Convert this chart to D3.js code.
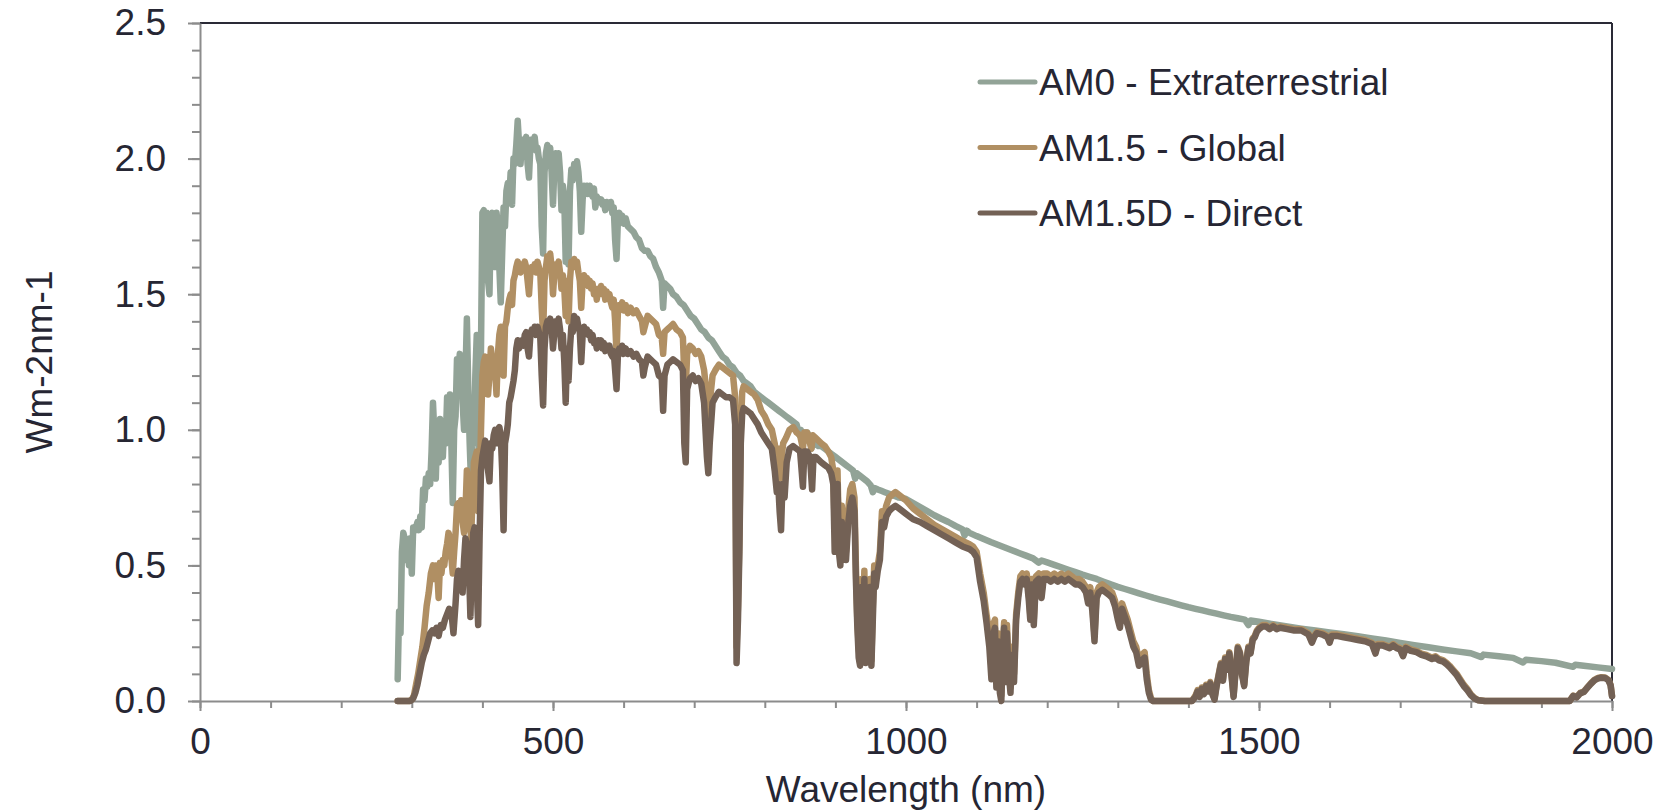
<!DOCTYPE html>
<html>
<head>
<meta charset="utf-8">
<script src="https://cdn.jsdelivr.net/npm/d3@7"></script>
<style>
  html, body { margin: 0; padding: 0; background: #fff; }
  svg { display: block; }
  text { font-family: "Liberation Sans", Arial, sans-serif; fill: #262633; }
</style>
</head>
<body>
<svg id="chart" width="1667" height="811"></svg>
<script>
// Solar spectral irradiance, [wavelength nm, W m-2 nm-1]
const am0 = [
  [280,0.08],[282,0.33],[284,0.25],[286,0.55],[288,0.62],[290,0.6],[292,0.52],[294,0.58],[296,0.5],[298,0.6],
  [300,0.47],[302,0.64],[305,0.63],[308,0.66],[310,0.63],[312,0.68],[314,0.64],[316,0.78],[318,0.74],[320,0.82],
  [322,0.79],[324,0.84],[326,0.8],[328,0.92],[330,1.1],[332,0.98],[334,0.82],[336,1.0],[338,0.88],[340,1.04],
  [342,0.97],[344,0.9],[346,1.03],[348,0.95],[350,1.12],[352,1.0],[354,1.13],[356,0.95],[358,0.73],[360,1.0],
  [362,1.05],[364,1.26],[366,1.22],[368,1.28],[370,1.25],[372,1.1],[374,1.0],[376,1.2],[378,1.41],[380,1.15],
  [382,0.95],[384,0.8],[386,1.0],[388,0.95],[390,1.2],[392,1.35],[394,1.0],[396,0.87],[398,1.3],[400,1.8],
  [402,1.81],[404,1.62],[406,1.8],[408,1.55],[410,1.5],[412,1.78],[414,1.8],[416,1.72],[418,1.6],[420,1.8],
  [422,1.75],[424,1.6],[426,1.47],[428,1.65],[430,1.82],[432,1.75],[434,1.88],[436,1.91],[438,1.85],[440,1.95],
  [442,1.83],[444,2.0],[446,1.98],[448,2.05],[450,2.14],[452,2.05],[454,1.98],[456,2.06],[458,2.07],[460,2.05],
  [462,2.08],[464,1.98],[466,1.93],[468,2.05],[470,2.07],[472,2.06],[474,2.08],[476,2.03],[478,2.04],[480,2.0],
  [482,1.98],[484,1.75],[486,1.65],[488,1.95],[490,2.02],[492,2.05],[494,2.0],[496,2.04],[498,1.95],[500,1.83],
  [502,1.97],[504,2.02],[506,1.98],[508,2.02],[510,1.95],[512,1.81],[514,1.9],[516,1.85],[518,1.62],[520,1.8],
  [522,1.61],[524,1.88],[526,1.96],[528,1.92],[530,1.98],[532,1.94],[534,1.99],[536,1.95],[538,1.88],[540,1.73],
  [542,1.85],[544,1.9],[546,1.88],[548,1.9],[550,1.87],[552,1.9],[554,1.88],[556,1.86],[558,1.89],[560,1.82],
  [562,1.86],[564,1.85],[566,1.84],[568,1.85],[570,1.83],[572,1.84],[574,1.81],[576,1.84],[578,1.83],[580,1.82],
  [582,1.84],[584,1.8],[586,1.82],[588,1.7],[590,1.63],[592,1.78],[594,1.8],[596,1.77],[598,1.79],[600,1.76],
  [603,1.78],[606,1.75],[610,1.74],[614,1.73],[618,1.71],[622,1.7],[626,1.67],[630,1.66],[634,1.66],[638,1.64],
  [642,1.63],[646,1.6],[650,1.58],[654,1.55],[656,1.45],[658,1.54],[662,1.53],[666,1.52],[670,1.5],[675,1.49],
  [680,1.47],[685,1.46],[690,1.44],[695,1.42],[700,1.41],[705,1.39],[710,1.37],[715,1.36],[720,1.34],[725,1.33],
  [730,1.31],[735,1.29],[740,1.27],[745,1.26],[750,1.24],[755,1.23],[760,1.21],[765,1.2],[770,1.18],[775,1.17],
  [780,1.16],[785,1.14],[790,1.13],[795,1.12],[800,1.11],[805,1.1],[810,1.09],[815,1.08],[820,1.07],[825,1.06],
  [830,1.05],[835,1.04],[840,1.03],[845,1.02],[849,0.98],[851,1.0],[854,0.97],[856,0.99],[860,0.99],[864,0.97],
  [866,0.93],[868,0.96],[872,0.95],[876,0.94],[880,0.94],[885,0.93],[890,0.92],[895,0.91],[900,0.9],[905,0.89],
  [910,0.88],[915,0.87],[920,0.86],[925,0.85],[928,0.82],[930,0.84],[935,0.83],[940,0.82],[945,0.81],[950,0.795],
  [953,0.77],[956,0.785],[960,0.78],[965,0.775],[970,0.77],[975,0.765],[980,0.76],[985,0.755],[990,0.75],[995,0.748],
  [1000,0.745],[1010,0.73],[1020,0.715],[1030,0.7],[1040,0.685],[1050,0.672],[1060,0.66],[1070,0.646],[1080,0.633],[1083,0.61],
  [1086,0.628],[1090,0.62],[1100,0.608],[1110,0.597],[1120,0.586],[1130,0.576],[1140,0.566],[1150,0.556],[1160,0.546],[1170,0.536],
  [1180,0.526],[1188,0.51],[1192,0.518],[1200,0.511],[1210,0.502],[1220,0.493],[1230,0.484],[1240,0.475],[1250,0.466],[1260,0.458],
  [1270,0.45],[1280,0.44],[1290,0.43],[1300,0.421],[1310,0.413],[1320,0.405],[1330,0.397],[1340,0.389],[1350,0.381],[1360,0.374],
  [1370,0.367],[1380,0.36],[1390,0.353],[1400,0.346],[1410,0.34],[1420,0.334],[1430,0.328],[1440,0.322],[1450,0.316],[1460,0.31],
  [1470,0.305],[1480,0.3],[1485,0.28],[1488,0.297],[1500,0.292],[1520,0.283],[1540,0.275],[1560,0.267],[1580,0.26],[1600,0.253],
  [1620,0.246],[1640,0.239],[1660,0.231],[1680,0.223],[1700,0.214],[1720,0.206],[1740,0.198],[1760,0.19],[1780,0.183],[1800,0.176],
  [1815,0.162],[1818,0.171],[1840,0.165],[1860,0.159],[1874,0.142],[1878,0.152],[1900,0.147],[1920,0.141],[1945,0.126],[1948,0.134],
  [1960,0.13],[1980,0.124],[2000,0.118]
];

const am15Global = [
  [280,0],[296,0],[300,0.005],[303,0.02],[306,0.06],[309,0.1],[312,0.15],[315,0.2],[318,0.27],[321,0.35],
  [324,0.4],[327,0.47],[330,0.5],[332,0.45],[334,0.5],[336,0.48],[338,0.38],[340,0.51],[342,0.47],[344,0.52],
  [346,0.5],[348,0.55],[350,0.58],[352,0.62],[354,0.6],[356,0.53],[358,0.47],[360,0.55],[362,0.62],[364,0.72],
  [366,0.73],[368,0.7],[370,0.74],[372,0.66],[374,0.62],[376,0.7],[378,0.85],[380,0.78],[382,0.68],[384,0.6],
  [386,0.75],[388,0.88],[390,0.9],[392,0.92],[394,0.7],[396,0.78],[398,1.0],[400,1.2],[402,1.25],[404,1.27],
  [406,1.2],[408,1.13],[410,1.2],[412,1.3],[414,1.25],[416,1.27],[418,1.22],[420,1.13],[422,1.28],[424,1.35],
  [426,1.38],[428,1.37],[430,1.2],[432,1.38],[434,1.4],[436,1.45],[438,1.48],[440,1.5],[442,1.46],[444,1.55],
  [446,1.57],[448,1.6],[450,1.62],[452,1.6],[454,1.58],[456,1.61],[458,1.6],[460,1.62],[462,1.6],[464,1.55],
  [466,1.5],[468,1.58],[470,1.6],[472,1.59],[474,1.61],[476,1.58],[478,1.62],[480,1.6],[482,1.58],[484,1.45],
  [486,1.35],[488,1.55],[490,1.6],[492,1.64],[494,1.62],[496,1.65],[498,1.6],[500,1.5],[502,1.58],[504,1.61],
  [506,1.6],[508,1.62],[510,1.58],[512,1.52],[514,1.57],[516,1.52],[518,1.42],[520,1.55],[522,1.4],[524,1.55],
  [526,1.62],[528,1.6],[530,1.63],[532,1.6],[534,1.62],[536,1.58],[538,1.55],[540,1.45],[542,1.55],[544,1.57],
  [546,1.54],[548,1.56],[550,1.53],[552,1.55],[554,1.52],[556,1.54],[558,1.5],[560,1.52],[562,1.48],[564,1.52],
  [566,1.5],[568,1.53],[570,1.5],[572,1.52],[574,1.48],[576,1.51],[578,1.49],[580,1.5],[582,1.47],[584,1.45],
  [586,1.48],[588,1.4],[590,1.28],[592,1.44],[594,1.46],[596,1.45],[598,1.47],[600,1.44],[603,1.46],[606,1.43],
  [610,1.45],[614,1.43],[618,1.44],[622,1.42],[626,1.4],[628,1.36],[630,1.38],[634,1.42],[638,1.41],[642,1.4],
  [646,1.39],[650,1.35],[654,1.34],[656,1.28],[658,1.36],[662,1.37],[666,1.38],[670,1.39],[675,1.37],[680,1.36],
  [684,1.34],[686,1.2],[688,1.15],[690,1.28],[694,1.31],[698,1.3],[702,1.28],[706,1.29],[710,1.27],[714,1.22],
  [718,1.12],[720,1.05],[722,1.1],[726,1.2],[730,1.22],[735,1.24],[740,1.23],[745,1.22],[750,1.21],[755,1.2],
  [758,1.12],[760,0.2],[762,0.35],[764,0.6],[766,1.0],[768,1.14],[770,1.16],[775,1.15],[780,1.14],[785,1.13],
  [790,1.11],[795,1.07],[800,1.05],[805,1.02],[810,1.0],[814,0.95],[818,0.88],[820,0.93],[822,0.82],[824,0.9],
  [826,0.95],[830,0.97],[835,1.0],[840,1.01],[845,0.99],[850,0.98],[854,0.93],[856,0.99],[860,0.99],[866,0.93],
  [868,0.98],[872,0.97],[876,0.96],[880,0.95],[885,0.94],[890,0.92],[894,0.9],[897,0.85],[899,0.63],[901,0.7],
  [903,0.85],[905,0.6],[907,0.52],[909,0.72],[911,0.6],[913,0.65],[915,0.55],[918,0.7],[921,0.78],[924,0.8],
  [927,0.75],[929,0.5],[931,0.3],[933,0.2],[935,0.14],[937,0.45],[939,0.25],[941,0.48],[943,0.16],[945,0.4],
  [947,0.18],[949,0.45],[951,0.15],[953,0.35],[955,0.5],[957,0.45],[960,0.5],[963,0.55],[966,0.7],[969,0.68],
  [972,0.72],[976,0.75],[980,0.76],[985,0.77],[990,0.76],[995,0.75],[1000,0.74],[1010,0.71],[1020,0.69],[1030,0.67],
  [1040,0.65],[1050,0.635],[1060,0.62],[1070,0.605],[1080,0.59],[1090,0.578],[1095,0.57],[1100,0.55],[1105,0.47],[1110,0.4],
  [1114,0.32],[1118,0.25],[1121,0.12],[1123,0.28],[1126,0.3],[1128,0.08],[1130,0.25],[1133,0.05],[1135,0.02],[1137,0.2],
  [1139,0.29],[1141,0.1],[1143,0.28],[1145,0.15],[1148,0.05],[1150,0.2],[1153,0.1],[1156,0.32],[1159,0.4],[1162,0.46],
  [1165,0.47],[1168,0.45],[1171,0.47],[1174,0.4],[1176,0.32],[1178,0.45],[1181,0.3],[1184,0.46],[1188,0.47],[1192,0.4],
  [1195,0.47],[1200,0.47],[1205,0.46],[1210,0.47],[1215,0.46],[1220,0.47],[1225,0.46],[1230,0.47],[1235,0.46],[1240,0.45],
  [1245,0.45],[1250,0.44],[1255,0.42],[1258,0.38],[1261,0.42],[1264,0.35],[1267,0.24],[1270,0.4],[1273,0.42],[1278,0.43],
  [1283,0.42],[1288,0.41],[1292,0.4],[1296,0.37],[1300,0.32],[1303,0.29],[1306,0.36],[1310,0.33],[1314,0.3],[1318,0.26],
  [1322,0.22],[1326,0.2],[1330,0.15],[1334,0.17],[1338,0.18],[1341,0.1],[1344,0.04],[1347,0.01],[1350,0],[1405,0],
  [1410,0.02],[1413,0.04],[1416,0.02],[1419,0.05],[1422,0.03],[1425,0.06],[1428,0.04],[1431,0.07],[1434,0.03],[1437,0.01],
  [1440,0.06],[1443,0.1],[1446,0.14],[1449,0.08],[1452,0.16],[1455,0.12],[1458,0.18],[1461,0.1],[1464,0.02],[1467,0.12],
  [1470,0.2],[1473,0.18],[1476,0.1],[1479,0.06],[1482,0.15],[1485,0.2],[1488,0.18],[1491,0.23],[1494,0.24],[1497,0.26],
  [1500,0.27],[1505,0.28],[1510,0.28],[1515,0.27],[1520,0.28],[1525,0.27],[1530,0.275],[1540,0.27],[1550,0.265],[1560,0.265],
  [1570,0.25],[1575,0.22],[1578,0.24],[1582,0.255],[1590,0.25],[1597,0.24],[1600,0.22],[1603,0.245],[1610,0.245],[1620,0.24],
  [1630,0.235],[1640,0.23],[1650,0.225],[1660,0.215],[1665,0.18],[1668,0.21],[1675,0.21],[1685,0.2],[1690,0.21],[1695,0.2],
  [1700,0.195],[1704,0.17],[1708,0.2],[1715,0.19],[1723,0.185],[1730,0.175],[1737,0.17],[1745,0.16],[1750,0.165],[1755,0.155],
  [1761,0.15],[1766,0.14],[1770,0.13],[1775,0.115],[1780,0.1],[1785,0.08],[1790,0.06],[1795,0.045],[1800,0.025],[1805,0.012],
  [1810,0.004],[1820,0],[1940,0],[1945,0.02],[1950,0.015],[1955,0.03],[1960,0.035],[1965,0.05],[1970,0.065],[1975,0.078],
  [1980,0.085],[1985,0.088],[1990,0.087],[1995,0.078],[1998,0.06],[2000,0.02]
];

const am15Direct = [
  [280,0],[298,0],[302,0.01],[305,0.03],[308,0.06],[311,0.1],[314,0.14],[317,0.17],[320,0.19],[323,0.22],
  [326,0.25],[329,0.26],[332,0.25],[335,0.27],[338,0.24],[341,0.28],[344,0.27],[347,0.3],[350,0.32],[353,0.34],
  [356,0.33],[359,0.25],[362,0.36],[364,0.45],[366,0.48],[368,0.42],[370,0.45],[372,0.4],[374,0.52],[376,0.6],
  [378,0.58],[380,0.55],[382,0.4],[383,0.31],[385,0.5],[387,0.62],[389,0.64],[391,0.6],[393,0.35],[394,0.28],
  [396,0.6],[398,0.85],[400,0.9],[402,0.93],[404,0.96],[406,0.9],[408,0.85],[410,0.81],[412,0.95],[414,0.93],
  [416,0.98],[418,1.0],[420,0.95],[422,1.0],[424,1.01],[426,0.98],[428,0.85],[430,0.63],[432,0.95],[434,0.98],
  [436,1.02],[438,1.1],[440,1.12],[442,1.15],[444,1.18],[446,1.22],[448,1.3],[450,1.33],[452,1.3],[454,1.32],
  [456,1.33],[458,1.31],[460,1.35],[462,1.36],[464,1.3],[466,1.27],[468,1.35],[470,1.37],[472,1.36],[474,1.38],
  [476,1.35],[478,1.38],[480,1.36],[482,1.34],[484,1.2],[486,1.09],[488,1.3],[490,1.38],[492,1.4],[494,1.38],
  [496,1.41],[498,1.38],[500,1.3],[502,1.36],[504,1.4],[506,1.38],[508,1.41],[510,1.37],[512,1.3],[514,1.35],
  [516,1.25],[518,1.1],[520,1.3],[522,1.18],[524,1.3],[526,1.38],[528,1.36],[530,1.42],[532,1.4],[534,1.41],
  [536,1.38],[538,1.36],[540,1.25],[542,1.35],[544,1.38],[546,1.36],[548,1.37],[550,1.35],[552,1.36],[554,1.33],
  [556,1.35],[558,1.32],[560,1.33],[562,1.3],[564,1.33],[566,1.31],[568,1.33],[570,1.3],[572,1.32],[574,1.29],
  [576,1.31],[578,1.3],[580,1.31],[582,1.28],[584,1.27],[586,1.29],[588,1.22],[590,1.15],[592,1.28],[594,1.3],
  [596,1.29],[598,1.31],[600,1.28],[603,1.3],[606,1.28],[610,1.29],[614,1.27],[618,1.28],[622,1.26],[626,1.25],
  [628,1.2],[630,1.23],[634,1.27],[638,1.26],[642,1.25],[646,1.24],[650,1.2],[654,1.19],[656,1.07],[658,1.2],
  [662,1.24],[666,1.25],[670,1.26],[675,1.25],[680,1.24],[684,1.22],[686,0.95],[688,0.88],[690,1.15],[694,1.19],
  [698,1.2],[702,1.18],[706,1.19],[710,1.17],[714,1.1],[718,0.9],[720,0.84],[722,0.95],[726,1.1],[730,1.12],
  [735,1.14],[740,1.13],[745,1.12],[750,1.12],[755,1.11],[758,1.02],[760,0.14],[762,0.3],[764,0.55],[766,0.95],
  [768,1.06],[770,1.08],[775,1.07],[780,1.06],[785,1.04],[790,1.02],[795,0.99],[800,0.97],[805,0.95],[810,0.93],
  [814,0.85],[817,0.77],[819,0.8],[821,0.7],[823,0.63],[825,0.8],[828,0.75],[831,0.88],[835,0.93],[840,0.94],
  [845,0.93],[850,0.92],[854,0.79],[856,0.92],[860,0.92],[864,0.9],[867,0.78],[869,0.9],[872,0.9],[876,0.89],
  [880,0.88],[885,0.87],[890,0.86],[894,0.84],[897,0.8],[899,0.55],[901,0.65],[903,0.8],[905,0.55],[907,0.5],
  [909,0.66],[911,0.55],[913,0.6],[915,0.52],[918,0.65],[921,0.72],[924,0.75],[927,0.7],[929,0.45],[931,0.28],
  [933,0.16],[935,0.13],[937,0.42],[939,0.22],[941,0.45],[943,0.14],[945,0.38],[947,0.16],[949,0.42],[951,0.13],
  [953,0.3],[955,0.47],[957,0.42],[960,0.48],[963,0.52],[966,0.66],[969,0.64],[972,0.68],[976,0.7],[980,0.71],
  [985,0.72],[990,0.71],[995,0.7],[1000,0.69],[1010,0.67],[1020,0.66],[1030,0.645],[1040,0.63],[1050,0.615],[1060,0.6],
  [1070,0.585],[1080,0.57],[1090,0.56],[1095,0.55],[1100,0.53],[1105,0.44],[1110,0.37],[1114,0.29],[1118,0.2],[1121,0.08],
  [1123,0.24],[1126,0.27],[1128,0.05],[1130,0.22],[1133,0.03],[1135,0],[1137,0.17],[1139,0.27],[1141,0.07],[1143,0.25],
  [1145,0.12],[1148,0.03],[1150,0.17],[1153,0.07],[1156,0.3],[1159,0.38],[1162,0.44],[1165,0.45],[1168,0.43],[1171,0.45],
  [1174,0.37],[1176,0.3],[1178,0.43],[1181,0.28],[1184,0.44],[1188,0.45],[1192,0.38],[1195,0.45],[1200,0.45],[1205,0.44],
  [1210,0.45],[1215,0.44],[1220,0.45],[1225,0.44],[1230,0.45],[1235,0.44],[1240,0.43],[1245,0.43],[1250,0.42],[1255,0.4],
  [1258,0.36],[1261,0.4],[1264,0.33],[1267,0.22],[1270,0.38],[1273,0.4],[1278,0.41],[1283,0.4],[1288,0.39],[1292,0.38],
  [1296,0.35],[1300,0.3],[1303,0.27],[1306,0.34],[1310,0.31],[1314,0.28],[1318,0.24],[1322,0.2],[1326,0.18],[1330,0.13],
  [1334,0.15],[1338,0.16],[1341,0.08],[1344,0.03],[1347,0.005],[1350,0],[1405,0],[1410,0.015],[1413,0.035],[1416,0.015],
  [1419,0.045],[1422,0.025],[1425,0.055],[1428,0.035],[1431,0.065],[1434,0.025],[1437,0.005],[1440,0.055],[1443,0.095],[1446,0.135],
  [1449,0.075],[1452,0.155],[1455,0.115],[1458,0.175],[1461,0.095],[1464,0.015],[1467,0.115],[1470,0.195],[1473,0.175],[1476,0.095],
  [1479,0.055],[1482,0.145],[1485,0.195],[1488,0.175],[1491,0.225],[1494,0.235],[1497,0.255],[1500,0.265],[1505,0.275],[1510,0.275],
  [1515,0.265],[1520,0.275],[1525,0.265],[1530,0.27],[1540,0.265],[1550,0.26],[1560,0.26],[1570,0.245],[1575,0.215],[1578,0.235],
  [1582,0.25],[1590,0.245],[1597,0.235],[1600,0.215],[1603,0.24],[1610,0.24],[1620,0.235],[1630,0.23],[1640,0.225],[1650,0.22],
  [1660,0.21],[1665,0.175],[1668,0.205],[1675,0.205],[1685,0.195],[1690,0.205],[1695,0.195],[1700,0.19],[1704,0.165],[1708,0.195],
  [1715,0.185],[1723,0.18],[1730,0.17],[1737,0.165],[1745,0.155],[1750,0.16],[1755,0.15],[1761,0.145],[1766,0.135],[1770,0.125],
  [1775,0.11],[1780,0.095],[1785,0.075],[1790,0.055],[1795,0.04],[1800,0.022],[1805,0.01],[1810,0.003],[1820,0],[1940,0],
  [1945,0.018],[1950,0.013],[1955,0.028],[1960,0.033],[1965,0.048],[1970,0.063],[1975,0.076],[1980,0.083],[1985,0.086],[1990,0.085],
  [1995,0.076],[1998,0.058],[2000,0.018]
];

const seriesNames = ["AM0 - Extraterrestrial", "AM1.5 - Global", "AM1.5D - Direct"];
const seriesColors = ["#92a397", "#b08f63", "#736155"];
const seriesData = [am0, am15Global, am15Direct];

const xMajorTicks = [0, 500, 1000, 1500, 2000];
const xMinorTicks = d3.range(0, 2001, 100);
const yMajorTicks = [0, 0.5, 1.0, 1.5, 2.0, 2.5];
const yMinorTicks = d3.range(0, 26).map(i => i / 10);

const xTitle = "Wavelength (nm)";
const yTitle = "Wm-2nm-1";

// Layout
const plot = { left: 200, right: 1612, top: 23, bottom: 701 };
const axisGrey = "#8c8c8c";
const frameDark = "#2a2a36";
const fontSize = 37;

const svg = d3.select("#chart");

const x = d3.scaleLinear().domain([0, 2000]).range([plot.left, plot.right]);
const y = d3.scaleLinear().domain([0, 2.5]).range([plot.bottom, plot.top]);

// Frame: dark top and right edges
svg.append("line")
  .attr("x1", plot.left).attr("x2", plot.right)
  .attr("y1", plot.top).attr("y2", plot.top)
  .attr("stroke", frameDark).attr("stroke-width", 2);
svg.append("line")
  .attr("x1", plot.right).attr("x2", plot.right)
  .attr("y1", plot.top).attr("y2", plot.bottom)
  .attr("stroke", frameDark).attr("stroke-width", 2);

// Minor ticks
svg.append("g")
  .attr("transform", `translate(${plot.left},0)`)
  .call(d3.axisLeft(y).tickValues(yMinorTicks).tickSize(8).tickFormat(""))
  .call(g => g.select(".domain").remove())
  .call(g => g.selectAll("line").attr("stroke", axisGrey).attr("stroke-width", 2));
svg.append("g")
  .attr("transform", `translate(0,${plot.bottom})`)
  .call(d3.axisBottom(x).tickValues(xMinorTicks).tickSize(7).tickFormat(""))
  .call(g => g.select(".domain").remove())
  .call(g => g.selectAll("line").attr("stroke", axisGrey).attr("stroke-width", 2));

// Major axes
const yAxis = svg.append("g")
  .attr("transform", `translate(${plot.left},0)`)
  .call(d3.axisLeft(y).tickValues(yMajorTicks).tickSize(12).tickPadding(22).tickSizeOuter(0)
    .tickFormat(d3.format(".1f")));
yAxis.select(".domain").attr("stroke", axisGrey).attr("stroke-width", 2);
yAxis.selectAll("line").attr("stroke", axisGrey).attr("stroke-width", 2);
yAxis.selectAll("text")
  .style("font-family", '"Liberation Sans", Arial, sans-serif')
  .style("font-size", fontSize + "px").attr("fill", "#262633");

const xAxis = svg.append("g")
  .attr("transform", `translate(0,${plot.bottom})`)
  .call(d3.axisBottom(x).tickValues(xMajorTicks).tickSize(10).tickPadding(17).tickSizeOuter(0)
    .tickFormat(d3.format("d")));
xAxis.select(".domain").attr("stroke", axisGrey).attr("stroke-width", 2);
xAxis.selectAll("line").attr("stroke", axisGrey).attr("stroke-width", 2);
xAxis.selectAll("text")
  .style("font-family", '"Liberation Sans", Arial, sans-serif')
  .style("font-size", fontSize + "px").attr("fill", "#262633");

// Axis titles
svg.append("text")
  .attr("x", (plot.left + plot.right) / 2).attr("y", 802)
  .attr("text-anchor", "middle")
  .style("font-size", fontSize + "px")
  .text(xTitle);
svg.append("text")
  .attr("transform", `translate(52,${(plot.top + plot.bottom) / 2}) rotate(-90)`)
  .attr("text-anchor", "middle")
  .style("font-size", fontSize + "px")
  .text(yTitle);

// Spectra
const line = d3.line()
  .x(d => x(d[0]))
  .y(d => y(d[1]));

svg.append("g").selectAll("path")
  .data(seriesData)
  .join("path")
  .attr("d", line)
  .attr("fill", "none")
  .attr("stroke", (d, i) => seriesColors[i])
  .attr("stroke-width", 6.5)
  .attr("stroke-linejoin", "round")
  .attr("stroke-linecap", "round");

// Legend
const legend = svg.append("g");
const legendRows = legend.selectAll("g")
  .data(seriesNames)
  .join("g")
  .attr("transform", (d, i) => `translate(980,${82 + i * 65.5})`);
legendRows.append("line")
  .attr("x1", 0).attr("x2", 55)
  .attr("stroke", (d, i) => seriesColors[i])
  .attr("stroke-width", 5)
  .attr("stroke-linecap", "round");
legendRows.append("text")
  .attr("x", 59).attr("y", 13)
  .style("font-size", fontSize + "px")
  .text(d => d);
</script>
</body>
</html>
